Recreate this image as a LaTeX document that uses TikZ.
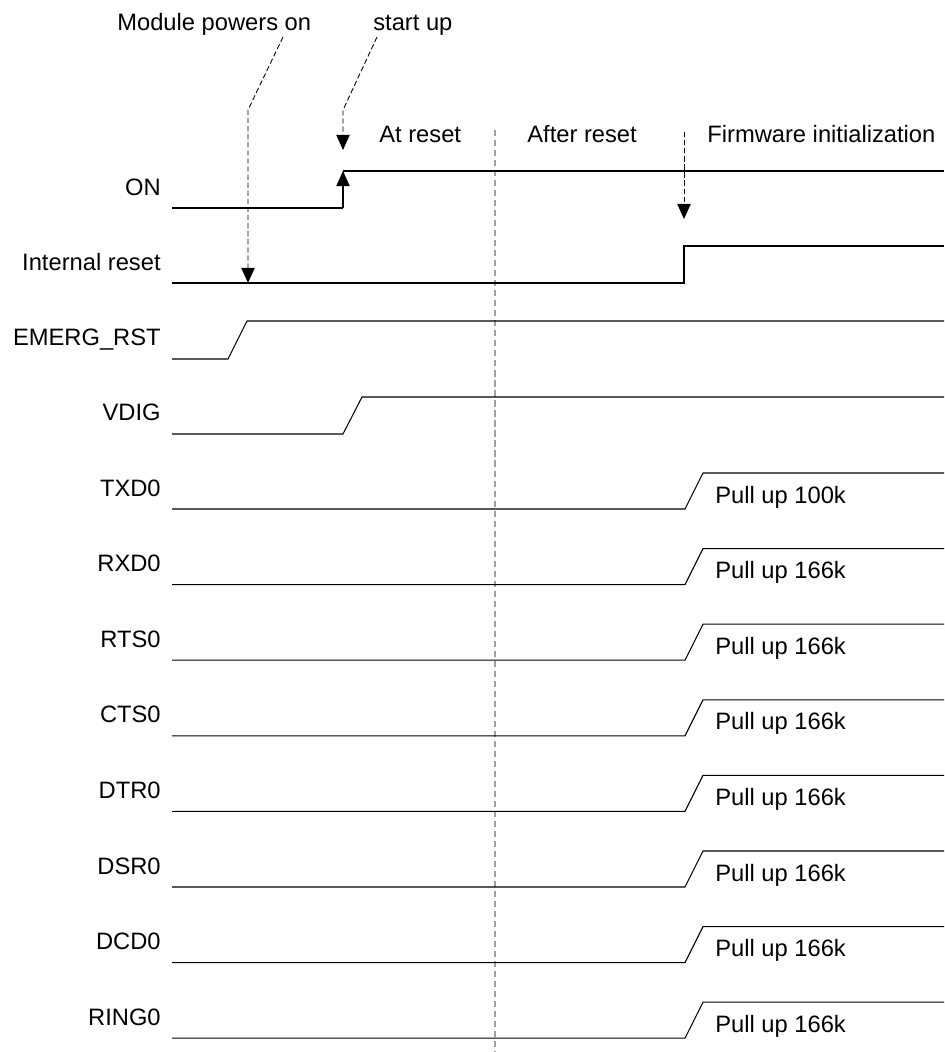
\documentclass[tikz,border=0pt]{standalone}
\usepackage{fontspec}
\setmainfont{Liberation Sans}
\usetikzlibrary{arrows.meta}
\definecolor{dGray}{HTML}{A0A0A0}
\tikzset{
    sig/.style={
            line width=0.6pt, % thin signal trace
            black
        },
    tip/.style={
            -{Triangle[width=7.6pt,length=8.6pt]}
        },
    callout/.style={
            line width=0.5pt,
            dash pattern=on 3pt off 1.6pt,
            tip
        },
    divider/.style={
            line width=0.7pt,
            dGray,
            dash pattern=on 3.5pt off 2.2pt
        },
    siglabel/.style={
            anchor=base east,
            inner sep=0pt,
            font=\fontsize{13.5}{16}\selectfont
        },
    phase/.style={
            anchor=base west,
            inner sep=0pt,
            font=\fontsize{13.5}{16}\selectfont
        },
}

\begin{document}
\begin{tikzpicture}[
        x=0.02cm,
        y=-0.02cm,
    ]
    \useasboundingbox (0,0) rectangle (944,1052);
    % phase titles
    \node[phase] (powers) at (117,30) {Module powers on};
    \node[phase] (startup) at (373,30) {start up};
    \node[phase] (atreset) at (379,142) {At reset};
    \node[phase] (afterreset) at (527,142) {After reset};
    \node[phase] (fwinit) at (707,142) {Firmware initialization};
    % divider between phases
    \coordinate (divtop) at (495,130);
    \coordinate (divbot) at (495,1052);
    \draw[divider] (divtop) -- (divbot);
    % ON
    \node[siglabel] (lblON) at (161,195) {ON};
    \coordinate (onlo) at (172,208);
    \coordinate (onrise) at (343,208);
    \coordinate (onhi) at (343,171);
    \coordinate (onend) at (944,171);
    \draw[sig] (onlo) -- (onrise);
    \draw[sig,tip] (onrise) -- (onhi);
    \draw[sig] (onhi) -- (onend);
    % Internal reset
    \node[siglabel] (lblIR) at (161,270) {Internal reset};
    \coordinate (irlo) at (172,283);
    \coordinate (irrise) at (684,283);
    \coordinate (irhi) at (684,246);
    \coordinate (irend) at (944,246);
    \draw[sig] (irlo) -- (irrise) -- (irhi) -- (irend);
    % EMERG_RST
    \node[siglabel] (lblER) at (161,345) {EMERG\_RST};
    \coordinate (erlo) at (172,359);
    \coordinate (errise) at (228,359);
    \coordinate (erhi) at (247,321);
    \coordinate (erend) at (944,321);
    \draw[sig] (erlo) -- (errise) -- (erhi) -- (erend);
    % VDIG
    \node[siglabel] (lblVD) at (161,420) {VDIG};
    \coordinate (vdlo) at (172,434);
    \coordinate (vdrise) at (343,434);
    \coordinate (vdhi) at (362,397);
    \coordinate (vdend) at (944,397);
    \draw[sig] (vdlo) -- (vdrise) -- (vdhi) -- (vdend);
    % UART lines with pull ups
    \foreach \name/\val [count=\i from 0] in {TXD0/100k,RXD0/166k,RTS0/166k,CTS0/166k,DTR0/166k,DSR0/166k,DCD0/166k,RING0/166k}{
        \pgfmathsetmacro\yy{509+75.6*\i}
        \node[siglabel] (lbl\name) at (161,\yy-13) {\name};
        \coordinate (lo\name) at (172,\yy);
        \coordinate (rise\name) at (685,\yy);
        \coordinate (hi\name) at (703,\yy-36);
        \coordinate (end\name) at (944,\yy-36);
        \draw[sig] (lo\name) -- (rise\name) -- (hi\name) -- (end\name);
        \node[phase] (pu\name) at (715,\yy-6) {Pull up \val};
    }
    % callouts
    \coordinate (pwA) at (283,37);
    \coordinate (pwB) at (248,110);
    \coordinate (pwC) at (248,283);
    \draw[callout] (pwA) -- (pwB) -- (pwC);
    \coordinate (suA) at (377,37);
    \coordinate (suB) at (343,110);
    \coordinate (suC) at (343,150);
    \draw[callout] (suA) -- (suB) -- (suC);
    \coordinate (fwA) at (684,132);
    \coordinate (fwC) at (684,219);
    \draw[callout] (fwA) -- (fwC);
\end{tikzpicture}
\end{document}
